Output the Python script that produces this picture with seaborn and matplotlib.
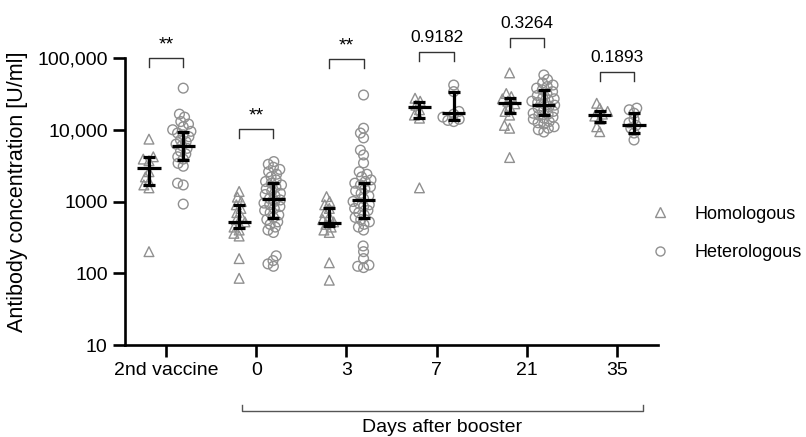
import numpy as np
import pandas as pd
import matplotlib
matplotlib.use("Agg")
import matplotlib.pyplot as plt
import matplotlib.transforms as mtransforms
from matplotlib.lines import Line2D
import seaborn as sns

# ---------------- data ----------------
categories = ["2nd vaccine", "0", "3", "7", "21", "35"]
groups = ["Homologous", "Heterologous"]

hom_2nd = [7400, 4200, 3900, 3700, 2600, 2200, 1900, 1700, 1550, 200]
hom_d0 = [1380, 1150, 1000, 900, 800, 700, 620, 560, 520, 480, 440, 400, 360, 330, 160, 85]
hom_d3 = [1170, 1000, 900, 800, 700, 620, 560, 520, 480, 440, 400, 370, 140, 80]
hom_d7 = [27500, 25000, 22000, 19000, 16000, 14500, 1550]
hom_d21 = [62000, 32000, 29000, 27000, 25000, 23000, 21000, 18000, 16000, 11500, 10500, 4100]
hom_d35 = [23400, 20000, 18000, 16500, 15500, 14000, 11000, 9400]

het_2nd = [38000, 16500, 15000, 13000, 12000, 11000, 10000, 9500, 9000, 8500, 8000, 7200, 6800,
           6300, 6000, 5500, 5000, 4600, 4200, 3900, 3400, 3100, 1800, 1700, 920]
het_d0 = [3600, 3300, 3000, 2800, 2600, 2400, 2200, 2000, 1900, 1800, 1700, 1600, 1500, 1400, 1300,
          1250, 1200, 1100, 1050, 1000, 950, 900, 850, 800, 750, 700, 650, 600, 560, 520, 480, 440,
          400, 370, 175, 150, 135, 125]
het_d3 = [30500, 10500, 9000, 7700, 5200, 4450, 3450, 2600, 2400, 2200, 2000, 1900, 1800, 1700, 1600,
          1500, 1400, 1300, 1200, 1100, 1000, 950, 900, 850, 800, 750, 700, 650, 600, 560, 520, 480,
          440, 400, 240, 200, 160, 130, 125, 120]
het_d7 = [42000, 34000, 18000, 16500, 15000, 14000, 13500, 13000]
het_d21 = [58000, 50000, 45000, 42000, 40000, 38000, 36000, 34000, 32000, 30000, 28000, 27000, 26000,
           25000, 24000, 23000, 22000, 21000, 20000, 19000, 18000, 17000, 16500, 16000, 15000, 14500,
           14000, 13000, 12500, 12000, 11000, 10500, 10000, 9300]
het_d35 = [20000, 19000, 17000, 14000, 12500, 11500, 10500, 9000, 7200]

hom_values = [hom_2nd, hom_d0, hom_d3, hom_d7, hom_d21, hom_d35]
het_values = [het_2nd, het_d0, het_d3, het_d7, het_d21, het_d35]

# summary lines (centre with error bars)
hom_center = [2960, 525, 500, 21000, 23300, 16000]
hom_lower = [1700, 430, 450, 14600, 17300, 12900]
hom_upper = [4200, 890, 810, 24500, 27700, 18400]
het_center = [5900, 1080, 1050, 17000, 22100, 11600]
het_lower = [3800, 590, 590, 13700, 16000, 8900]
het_upper = [9400, 1800, 1800, 34000, 36000, 17000]

p_labels = ["**", "**", "**", "0.9182", "0.3264", "0.1893"]
ytick_vals = [10, 100, 1000, 10000, 100000]
ytick_labels = ["10", "100", "1000", "10,000", "100,000"]

# ---------------- layout ----------------
W, H = 806, 437
plt.rcParams["font.family"] = ["Liberation Sans", "DejaVu Sans"]
fig = plt.figure(figsize=(W / 100, H / 100), dpi=100)
ax = fig.add_axes([125 / W, 1 - 345 / H, (658 - 125) / W, (345 - 58) / H])
ax.set_yscale("log")
ax.set_ylim(10, 100000)
ax.set_xlim(-0.456, 5.456)

offset = 0.19
gray = "#909090"

rows = []
for i, (hv, tv) in enumerate(zip(hom_values, het_values)):
    for v in hv:
        rows.append(dict(pos=i - offset, value=v, group="Homologous"))
    for v in tv:
        rows.append(dict(pos=i + offset, value=v, group="Heterologous"))
df = pd.DataFrame(rows)

# compact swarm layout (computed with small markers), shown with larger, overlapping markers
sns.swarmplot(data=df[df.group == "Homologous"], x="pos", y="value", native_scale=True,
              marker="^", size=3.6, color=gray, linewidth=0.5, edgecolor=gray, ax=ax, legend=False)
sns.swarmplot(data=df[df.group == "Heterologous"], x="pos", y="value", native_scale=True,
              marker="o", size=3.6, color=gray, linewidth=0.5, edgecolor=gray, ax=ax, legend=False)
ax.set_yscale("log")
ax.set_ylim(10, 100000)
ax.set_xlim(-0.456, 5.456)
fig.canvas.draw()
for coll in list(ax.collections):
    if "draw" in coll.__dict__:
        del coll.draw
    coll.set_facecolor("none")
    coll.set_edgecolor(gray)
    coll.set_linewidth(1.0)
    coll.set_sizes([7.0 ** 2])

xs = np.arange(len(categories))
for sign, c, lo, up in [(-1, hom_center, hom_lower, hom_upper), (1, het_center, het_lower, het_upper)]:
    xp = xs + sign * offset
    c = np.array(c, float); lo = np.array(lo, float); up = np.array(up, float)
    ax.hlines(c, xp - 0.128, xp + 0.128, color="black", lw=2.3, zorder=5)
    ax.errorbar(xp, c, yerr=[c - lo, up - c], fmt="none", ecolor="black", elinewidth=2.3,
                capsize=4.3, capthick=2.3, zorder=5)

ax.set_xticks(xs)
ax.set_xticklabels(categories)
ax.set_yticks(ytick_vals)
ax.set_yticklabels(ytick_labels)
ax.yaxis.set_minor_locator(matplotlib.ticker.NullLocator())
ax.set_xlabel("")
ax.set_ylabel("")
for s in ["top", "right"]:
    ax.spines[s].set_visible(False)
for s in ["left", "bottom"]:
    ax.spines[s].set_linewidth(1.9)
    ax.spines[s].set_color("black")
ax.tick_params(axis="both", length=8.5, width=1.9, labelsize=14, colors="black", pad=4)

# significance brackets
bracket_top = [100000, 10250, 97000, 121000, 190000, 63800]
for i, (yt, lab) in enumerate(zip(bracket_top, p_labels)):
    ybot = yt * 0.74
    ax.plot([i - offset, i - offset, i + offset, i + offset], [ybot, yt, yt, ybot],
            color="#333333", lw=1.0, clip_on=False, zorder=6)
    fs = 14 if lab == "**" else 12.5
    ax.annotate(lab, (i, yt), xytext=(0, 3 if lab == "**" else 5), textcoords="offset points",
                ha="center", va="bottom", fontsize=fs, annotation_clip=False)

# "Days after booster" bracket below the axis
trans = mtransforms.blended_transform_factory(ax.transData, fig.transFigure)
yb = 1 - 411 / H
yl = 1 - 405 / H
ax.plot([0.844, 0.844, 5.289, 5.289], [yl, yb, yb, yl], color="#555555", lw=1.0,
        transform=trans, clip_on=False)
ax.text(3.066, 1 - 432 / H, "Days after booster", transform=trans, ha="center",
        va="baseline", fontsize=14)

fig.text(18 / W, 1 - 192 / H, "Antibody concentration [U/ml]", rotation=90,
         ha="center", va="center", fontsize=15.5)

handles = [Line2D([], [], ls="none", marker="^", ms=6.5, mfc="none", mec=gray, mew=1),
           Line2D([], [], ls="none", marker="o", ms=6.5, mfc="none", mec=gray, mew=1)]
ax.legend(handles, groups, loc="center left", bbox_to_anchor=(651 / W, 1 - 233.5 / H),
          bbox_transform=fig.transFigure, frameon=False, handlelength=1, handletextpad=1.4,
          labelspacing=1.2, borderpad=0, borderaxespad=0, fontsize=13)

fig.savefig("out.png", dpi=100)
